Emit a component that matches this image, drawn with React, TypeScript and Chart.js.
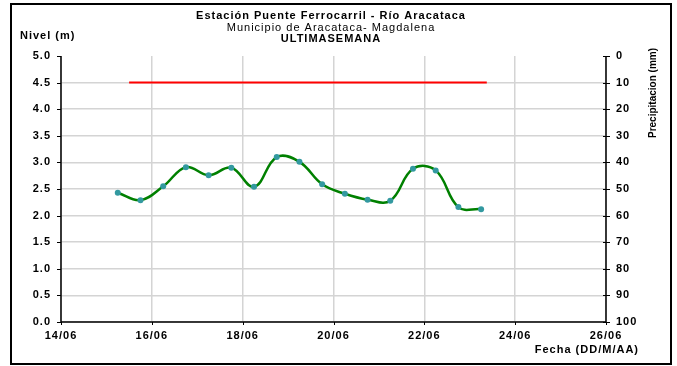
import React, { useEffect, useRef } from "react";
import { Chart, registerables } from "chart.js";

Chart.register(...registerables);

// ---- data ----
const TITLE_LINES = [
  "Estación Puente Ferrocarril - Río Aracataca",
  "Municipio de Aracataca- Magdalena",
  "ULTIMASEMANA",
];
const Y_LEFT_TITLE = "Nivel (m)";
const Y_RIGHT_TITLE = "Precipitacion (mm)";
const X_TITLE = "Fecha (DD/M/AA)";

// fractional day of June (day + hour/24)
const levelDates = [
  "15/06 06:00", "15/06 18:00", "16/06 06:00", "16/06 18:00", "17/06 06:00", "17/06 18:00",
  "18/06 06:00", "18/06 18:00", "19/06 06:00", "19/06 18:00", "20/06 06:00", "20/06 18:00",
  "21/06 06:00", "21/06 18:00", "22/06 06:00", "22/06 18:00", "23/06 06:00",
];
const levelValues = [
  2.43, 2.29, 2.55, 2.91, 2.76, 2.90, 2.54, 3.10, 3.01, 2.59, 2.41, 2.30, 2.28, 2.88, 2.85, 2.16, 2.12,
];
const alertDates = ["15/06 12:00", "23/06 09:00"];
const alertValues = [4.5, 4.5];

const xMinDay = 14;
const xMaxDay = 26;
const xStepDays = 2;
const monthLabel = "06";

const parseDay = (s: string) => {
  const [d, t] = s.split(" ");
  const day = parseInt(d.split("/")[0], 10);
  const [h, m] = t.split(":").map((v) => parseInt(v, 10));
  return day + (h + m / 60) / 24;
};

const FONT = "'Liberation Sans', Arial, sans-serif";

export default function App() {
  const ref = useRef<HTMLCanvasElement | null>(null);

  useEffect(() => {
    document.body.style.margin = "0";
    const canvas = ref.current!;
    const textPlugin = {
      id: "texts",
      beforeDraw(chart: any) {
        (chart.ctx as any).letterSpacing = "1px";
      },
      afterDraw(chart: any) {
        const ctx = chart.ctx as CanvasRenderingContext2D;
        const area = chart.chartArea;
        const yL = chart.scales.y;
        const yR = chart.scales.y2;
        const x = chart.scales.x;
        ctx.save();
        (ctx as any).letterSpacing = "1px";
        // outer frame
        ctx.strokeStyle = "#000";
        ctx.lineWidth = 2;
        ctx.strokeRect(11, 4, 660, 360);
        // axes lines
        ctx.lineWidth = 1.5;
        ctx.beginPath();
        ctx.moveTo(area.left, area.top);
        ctx.lineTo(area.left, area.bottom);
        ctx.lineTo(area.right, area.bottom);
        ctx.moveTo(area.right, area.top);
        ctx.lineTo(area.right, area.bottom);
        ctx.stroke();
        // ticks
        ctx.lineWidth = 1;
        ctx.beginPath();
        yL.ticks.forEach((t: any) => {
          const p = Math.round(yL.getPixelForValue(t.value)) + 0.5;
          ctx.moveTo(area.left - 4, p);
          ctx.lineTo(area.left, p);
        });
        yR.ticks.forEach((t: any) => {
          const p = Math.round(yR.getPixelForValue(t.value)) + 0.5;
          ctx.moveTo(area.right - 3, p);
          ctx.lineTo(area.right + 4, p);
        });
        x.ticks.forEach((t: any) => {
          const p = Math.round(x.getPixelForValue(t.value)) + 0.5;
          ctx.moveTo(p, area.bottom);
          ctx.lineTo(p, area.bottom + 3);
        });
        ctx.stroke();
        // titles
        ctx.fillStyle = "#000";
        ctx.textAlign = "center";
        ctx.textBaseline = "middle";
        ctx.font = `bold 11px ${FONT}`;
        ctx.fillText(TITLE_LINES[0], 331, 16);
        ctx.font = `11px ${FONT}`;
        ctx.fillText(TITLE_LINES[1], 331, 28);
        ctx.font = `bold 11px ${FONT}`;
        ctx.fillText(TITLE_LINES[2], 331, 39);
        ctx.textAlign = "left";
        ctx.fillText(Y_LEFT_TITLE, 20, 36);
        ctx.textAlign = "right";
        ctx.fillText(X_TITLE, 639, 350);
        ctx.translate(653, 93);
        ctx.rotate(-Math.PI / 2);
        ctx.textAlign = "center";
        ctx.font = `bold 10px ${FONT}`;
        (ctx as any).letterSpacing = "0px";
        ctx.fillText(Y_RIGHT_TITLE, 0, 0);
        ctx.restore();
      },
    };

    const chart = new Chart(canvas, {
      type: "line",
      data: {
        datasets: [
          {
            label: "Alerta",
            data: alertDates.map((d, i) => ({ x: parseDay(d), y: alertValues[i] })),
            borderColor: "#ff0000",
            borderWidth: 2,
            pointRadius: 0,
            tension: 0,
            yAxisID: "y",
          },
          {
            label: "Nivel",
            data: levelDates.map((d, i) => ({ x: parseDay(d), y: levelValues[i] })),
            borderColor: "#008000",
            borderWidth: 2.5,
            pointRadius: 3,
            pointBackgroundColor: "#3399a0",
            pointBorderColor: "#3399a0",
            pointBorderWidth: 0,
            tension: 0.4,
            cubicInterpolationMode: "default",
            yAxisID: "y",
          },
        ],
      },
      options: {
        animation: false,
        responsive: false,
        maintainAspectRatio: false,
        layout: { padding: { top: 56, left: 0, right: 0, bottom: 0 } },
        plugins: {
          legend: { display: false },
          tooltip: { enabled: false },
          title: { display: false },
        },
        scales: {
          x: {
            type: "linear",
            min: xMinDay,
            max: xMaxDay,
            afterFit: (s: any) => {
              s.height = 44;
            },
            ticks: {
              stepSize: xStepDays,
              color: "#000",
              font: { family: FONT, size: 11, weight: "bold" },
              padding: 3,
              maxRotation: 0,
              callback: (v: any) => `${v}/${monthLabel}`,
            },
            grid: {
              color: "#d4d4d4",
              lineWidth: 1.5,
              drawTicks: true,
              tickLength: 4,
              tickColor: "rgba(0,0,0,0)",
            },
            border: { display: false },
          },
          y: {
            position: "left",
            min: 0,
            max: 5,
            afterFit: (s: any) => {
              s.width = 61;
            },
            ticks: {
              stepSize: 0.5,
              color: "#000",
              font: { family: FONT, size: 11, weight: "bold" },
              padding: 6,
              callback: (v: any) => Number(v).toFixed(1),
            },
            grid: {
              color: (c: any) => (c.tick && c.tick.value === 5 ? "rgba(0,0,0,0)" : "#d4d4d4"),
              lineWidth: 1.5,
              tickLength: 4,
              tickColor: "rgba(0,0,0,0)",
            },
            border: { display: false },
          },
          y2: {
            position: "right",
            min: 0,
            max: 100,
            reverse: true,
            afterFit: (s: any) => {
              s.width = 71;
            },
            ticks: {
              stepSize: 10,
              color: "#000",
              font: { family: FONT, size: 11, weight: "bold" },
              padding: 6,
            },
            grid: { drawOnChartArea: false, tickLength: 4, tickColor: "rgba(0,0,0,0)" },
            border: { display: false },
          },
        },
      },
      plugins: [textPlugin],
    } as any);
    return () => chart.destroy();
  }, []);

  return (
    <div style={{ width: 677, height: 366, background: "#fff" }}>
      <canvas ref={ref} width={677} height={366} style={{ display: "block" }} />
    </div>
  );
}
